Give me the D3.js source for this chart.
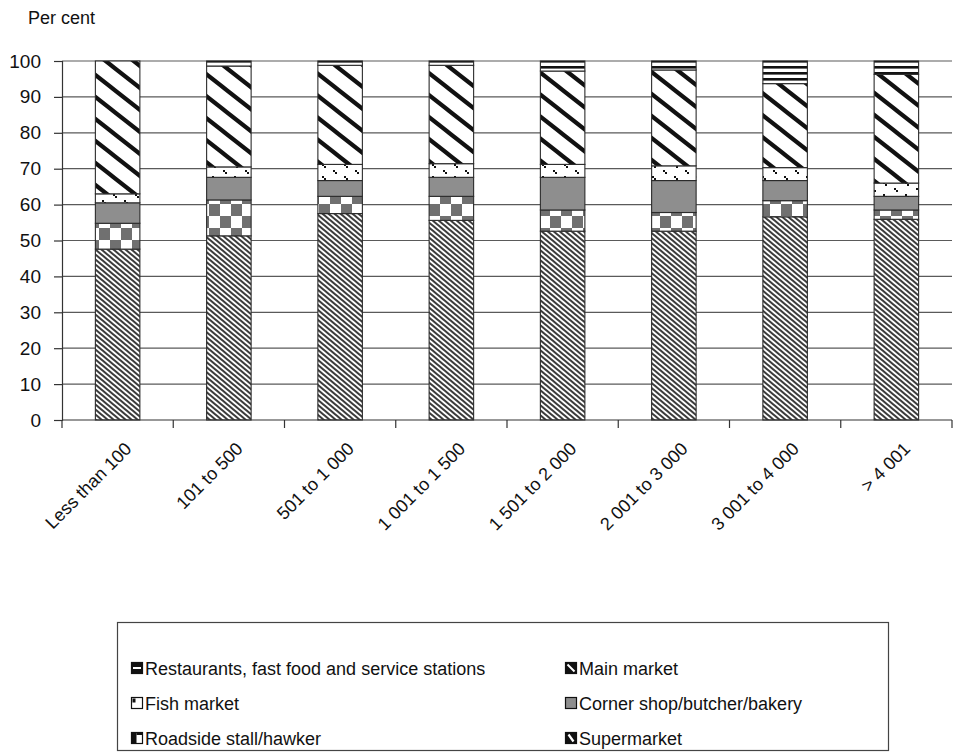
<!DOCTYPE html>
<html>
<head>
<meta charset="utf-8">
<script src="https://cdn.jsdelivr.net/npm/d3@7"></script>
<style>
  html, body { margin: 0; padding: 0; background: #fff; }
  svg { display: block; font-family: "Liberation Sans", Arial, sans-serif; }
</style>
</head>
<body>
<svg id="chart" width="955" height="753"></svg>
<script>
// Household income groups (Rand per month)
const categories = ["Less than 100", "101 to 500", "501 to 1 000", "1 001 to 1 500",
  "1 501 to 2 000", "2 001 to 3 000", "3 001 to 4 000", "> 4 001"];

// Share of food purchases by outlet type, per cent (stacked bottom to top)
const supermarket = [47.6, 51.3, 57.5, 55.6, 52.6, 52.6, 56.6, 55.9];
const roadside    = [7.2, 10.0, 4.8, 6.7, 5.9, 5.2, 4.5, 2.6];
const cornerShop  = [5.7, 6.3, 4.4, 5.3, 9.1, 8.9, 5.6, 3.8];
const fishMarket  = [2.5, 2.9, 4.5, 3.8, 3.6, 4.1, 3.6, 3.7];
const mainMarket  = [37.0, 28.1, 27.6, 27.4, 26.0, 26.7, 23.4, 30.3];
const restaurants = [0.0, 1.4, 1.2, 1.2, 2.8, 2.5, 6.3, 3.7];

const yTicks = [0, 10, 20, 30, 40, 50, 60, 70, 80, 90, 100];

const seriesNames = ["Supermarket", "Roadside stall/hawker", "Corner shop/butcher/bakery",
  "Fish market", "Main market", "Restaurants, fast food and service stations"];
const seriesValues = [supermarket, roadside, cornerShop, fishMarket, mainMarket, restaurants];
const seriesKeys = ["super", "road", "corner", "fish", "main", "rest"];

// Legend layout: two columns, read row by row
const legendOrder = ["rest", "main", "fish", "corner", "road", "super"];

const rows = categories.map((c, i) => {
  const r = { category: c };
  seriesKeys.forEach((k, j) => { r[k] = seriesValues[j][i]; });
  return r;
});

const svg = d3.select("#chart");
const plot = { left: 62, right: 952, top: 61, bottom: 420 };

const x = d3.scaleBand().domain(categories)
  .range([plot.left, plot.right]).paddingInner(0.6).paddingOuter(0.3);
const y = d3.scaleLinear().domain([0, 100]).range([plot.bottom, plot.top]);

// Fill patterns for the bars
const defs = svg.append("defs");

// supermarket: dense downward diagonal
const pSuper = defs.append("pattern").attr("id", "p-super")
  .attr("patternUnits", "userSpaceOnUse").attr("width", 6).attr("height", 5);
pSuper.append("rect").attr("width", 6).attr("height", 5).attr("fill", "#fff");
pSuper.append("path").attr("d", "M-1.2,-1 L7.2,6 M-7.2,-1 L1.2,6 M4.8,-1 L13.2,6")
  .attr("stroke", "#3d3d3d").attr("stroke-width", 2.1);

// roadside stall: grey/white checkerboard
const pRoad = defs.append("pattern").attr("id", "p-road")
  .attr("patternUnits", "userSpaceOnUse").attr("width", 22).attr("height", 24);
pRoad.append("rect").attr("width", 22).attr("height", 24).attr("fill", "#fff");
pRoad.append("rect").attr("x", 0).attr("y", 0).attr("width", 11).attr("height", 12).attr("fill", "#707070");
pRoad.append("rect").attr("x", 11).attr("y", 12).attr("width", 11).attr("height", 12).attr("fill", "#707070");

// corner shop: solid grey
const pCorner = defs.append("pattern").attr("id", "p-corner")
  .attr("patternUnits", "userSpaceOnUse").attr("width", 4).attr("height", 4);
pCorner.append("rect").attr("width", 4).attr("height", 4).attr("fill", "#8e8e8e");

// fish market: white with scattered dots
const pFish = defs.append("pattern").attr("id", "p-fish")
  .attr("patternUnits", "userSpaceOnUse").attr("width", 22).attr("height", 12);
pFish.append("rect").attr("width", 22).attr("height", 12).attr("fill", "#fff");
[[3, 2], [5, 4], [14, 8], [16, 10]].forEach(([px, py]) => {
  pFish.append("rect").attr("x", px).attr("y", py).attr("width", 2).attr("height", 2).attr("fill", "#111");
});

// main market: wide downward diagonal
const pMain = defs.append("pattern").attr("id", "p-main")
  .attr("patternUnits", "userSpaceOnUse").attr("width", 28).attr("height", 22);
pMain.append("rect").attr("width", 28).attr("height", 22).attr("fill", "#fff");
pMain.append("path").attr("d", "M-4,-3.14 L32,25.14 M-32,-3.14 L4,25.14 M24,-3.14 L60,25.14")
  .attr("stroke", "#111").attr("stroke-width", 4.2);

// restaurants: horizontal stripes
const pRest = defs.append("pattern").attr("id", "p-rest")
  .attr("patternUnits", "userSpaceOnUse").attr("width", 6).attr("height", 6);
pRest.append("rect").attr("width", 6).attr("height", 6).attr("fill", "#fff");
pRest.append("rect").attr("y", 0).attr("width", 6).attr("height", 2.6).attr("fill", "#111");

const fillOf = k => `url(#p-${k})`;

// Grid lines
svg.append("g").selectAll("line").data(yTicks.filter(t => t > 0)).join("line")
  .attr("x1", plot.left).attr("x2", plot.right)
  .attr("y1", d => y(d)).attr("y2", d => y(d))
  .attr("stroke", "#5a5a5a").attr("stroke-width", 1.2);

// Stacked bars
const stack = d3.stack().keys(seriesKeys)(rows);
svg.append("g").selectAll("g").data(stack).join("g")
  .attr("fill", d => fillOf(d.key))
  .selectAll("rect").data(d => d).join("rect")
  .attr("x", d => x(d.data.category))
  .attr("width", x.bandwidth())
  .attr("y", d => y(d[1]))
  .attr("height", d => y(d[0]) - y(d[1]))
  .attr("stroke", "#2b2b2b").attr("stroke-width", 1.1);

// Y axis
const yAxis = svg.append("g").attr("transform", `translate(${plot.left},0)`)
  .call(d3.axisLeft(y).tickValues(yTicks).tickSize(8).tickPadding(13));
yAxis.select(".domain").attr("stroke", "#333").attr("stroke-width", 1.2);
yAxis.selectAll(".tick line").attr("stroke", "#333").attr("stroke-width", 1.2);
yAxis.selectAll(".tick text").attr("font-size", 19).attr("fill", "#111")
  .attr("font-family", "Liberation Sans, Arial, sans-serif");

// X axis with ticks between categories
const step = x.step();
const boundaries = d3.range(categories.length + 1).map(i => plot.left + i * step);
const xAxis = svg.append("g");
xAxis.append("line").attr("x1", plot.left).attr("x2", plot.right)
  .attr("y1", plot.bottom).attr("y2", plot.bottom)
  .attr("stroke", "#333").attr("stroke-width", 1.2);
xAxis.selectAll("line.tk").data(boundaries).join("line").attr("class", "tk")
  .attr("x1", d => d).attr("x2", d => d)
  .attr("y1", plot.bottom).attr("y2", plot.bottom + 8)
  .attr("stroke", "#333").attr("stroke-width", 1.2);
xAxis.selectAll("text").data(categories).join("text")
  .attr("transform", d => `translate(${x(d) + x.bandwidth() / 2 + 15},${plot.bottom + 30}) rotate(-45)`)
  .attr("text-anchor", "end")
  .attr("font-size", 18).attr("fill", "#111")
  .text(d => d);

// Axis title
svg.append("text").attr("x", 28).attr("y", 24)
  .attr("font-size", 18).attr("fill", "#111").text("Per cent");

// Legend swatches: small pictograms of each fill
const swatchDraw = {
  rest: g => {
    g.append("rect").attr("width", 11).attr("height", 11).attr("fill", "#111");
    g.append("rect").attr("x", 1.5).attr("y", 4.5).attr("width", 8).attr("height", 2).attr("fill", "#fff");
  },
  main: g => {
    g.append("rect").attr("width", 11).attr("height", 11).attr("fill", "#111");
    g.append("path").attr("d", "M2,2 L9,9").attr("stroke", "#fff").attr("stroke-width", 2);
  },
  fish: g => {
    g.append("rect").attr("width", 11).attr("height", 11).attr("fill", "#fff");
    g.append("rect").attr("x", 1).attr("y", 1).attr("width", 3).attr("height", 4).attr("fill", "#111");
  },
  corner: g => {
    g.append("rect").attr("width", 11).attr("height", 11).attr("fill", "#8e8e8e");
  },
  road: g => {
    g.append("rect").attr("width", 11).attr("height", 11).attr("fill", "#fff");
    g.append("rect").attr("width", 5).attr("height", 11).attr("fill", "#111");
    g.append("rect").attr("x", 5).attr("width", 6).attr("height", 2.5).attr("fill", "#111");
  },
  super: g => {
    g.append("rect").attr("width", 11).attr("height", 11).attr("fill", "#111");
    g.append("path").attr("d", "M3,2 L8,9").attr("stroke", "#fff").attr("stroke-width", 2.2);
  }
};

// Legend
const legend = svg.append("g");
legend.append("rect").attr("x", 117.5).attr("y", 622.5).attr("width", 771).attr("height", 128)
  .attr("fill", "#fff").attr("stroke", "#444").attr("stroke-width", 1.2);
const legendItems = legendOrder.map((k, i) => ({
  key: k,
  name: seriesNames[seriesKeys.indexOf(k)],
  col: i % 2,
  row: Math.floor(i / 2)
}));
const li = legend.selectAll("g.item").data(legendItems).join("g").attr("class", "item")
  .attr("transform", d => `translate(${d.col ? 565 : 131},${668 + d.row * 35})`);
li.append("g").attr("transform", "translate(0.5,-5.5)").each(function (d) {
  const g = d3.select(this);
  swatchDraw[d.key](g);
  g.append("rect").attr("width", 11).attr("height", 11)
    .attr("fill", "none").attr("stroke", "#111").attr("stroke-width", 1.2);
});
li.append("text").attr("x", 14).attr("y", 6.5)
  .attr("font-size", 18).attr("fill", "#111").text(d => d.name);
</script>
</body>
</html>
